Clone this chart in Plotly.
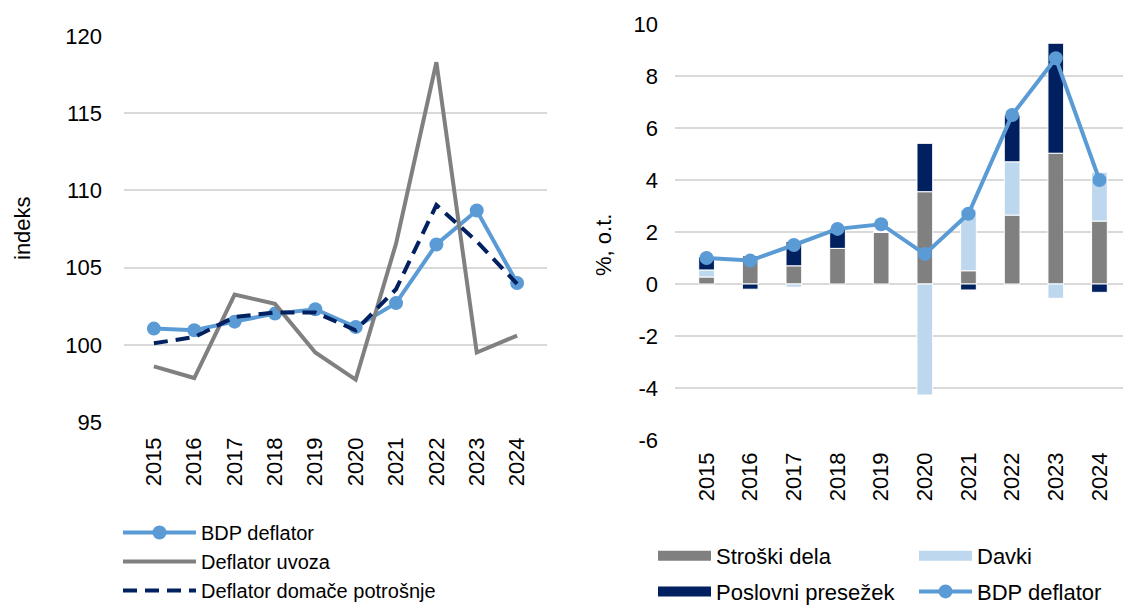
import plotly.graph_objects as go

years = ["2015", "2016", "2017", "2018", "2019", "2020", "2021", "2022", "2023", "2024"]

# Left chart (index)
bdp_index = [101.05, 100.94, 101.5, 102.02, 102.3, 101.15, 102.7, 106.5, 108.7, 104.0]
uvoz_index = [98.6, 97.85, 103.25, 102.65, 99.5, 97.75, 106.55, 118.3, 99.5, 100.6]
domaca_index = [100.1, 100.5, 101.8, 102.1, 102.1, 100.94, 103.6, 109.05, 106.7, 103.95]

# Right chart (%, contributions)
stroski_dela = [0.27, 1.1, 0.7, 1.37, 2.0, 3.55, 0.51, 2.65, 5.03, 2.42]
davki = [0.27, 0.0, -0.12, 0.0, 0.0, -4.27, 2.35, 2.05, -0.55, 1.88]
poslovni = [0.5, -0.2, 0.93, 0.75, 0.0, 1.86, -0.23, 1.8, 4.23, -0.32]
bdp_rast = [1.0, 0.9, 1.5, 2.12, 2.3, 1.15, 2.7, 6.5, 8.68, 4.0]

# Tick labels
left_ticks = [95, 100, 105, 110, 115, 120]
right_ticks = [-6, -4, -2, 0, 2, 4, 6, 8, 10]
right_ticktext = ["-6", "-4", "-2", "0", "2", "4", "6", "8", "10"]

C_LBLUE = "#5B9BD5"
C_GRAY = "#808080"
C_NAVY = "#002060"
C_PALE = "#BDD7EE"
FONT = "Liberation Sans, Arial, sans-serif"
FS = 22

fig = go.Figure()

# ---- Left chart ----
fig.add_trace(go.Scatter(x=years, y=bdp_index, name="BDP deflator", mode="lines+markers",
                         line=dict(color=C_LBLUE, width=4), marker=dict(size=14, color=C_LBLUE),
                         xaxis="x", yaxis="y", legend="legend", legendgroup="a"))
fig.add_trace(go.Scatter(x=years, y=uvoz_index, name="Deflator uvoza", mode="lines",
                         line=dict(color=C_GRAY, width=4),
                         xaxis="x", yaxis="y", legend="legend", legendgroup="b"))
fig.add_trace(go.Scatter(x=years, y=domaca_index, name="Deflator domače potrošnje", mode="lines",
                         line=dict(color=C_NAVY, width=4, dash="14px,8px"),
                         xaxis="x", yaxis="y", legend="legend", legendgroup="c"))

# ---- Right chart ----
bar_line = dict(color="white", width=1)
fig.add_trace(go.Bar(x=years, y=stroski_dela, name="Stroški dela", marker=dict(color=C_GRAY, line=bar_line),
                     xaxis="x2", yaxis="y2", showlegend=False))
fig.add_trace(go.Bar(x=years, y=davki, name="Davki", marker=dict(color=C_PALE, line=bar_line),
                     xaxis="x2", yaxis="y2", showlegend=False))
fig.add_trace(go.Bar(x=years, y=poslovni, name="Poslovni presežek", marker=dict(color=C_NAVY, line=bar_line),
                     xaxis="x2", yaxis="y2", showlegend=False))
fig.add_trace(go.Scatter(x=years, y=bdp_rast, name="BDP deflator", mode="lines+markers",
                         line=dict(color=C_LBLUE, width=4), marker=dict(size=14, color=C_LBLUE),
                         xaxis="x2", yaxis="y2", showlegend=False))

# legend entries for the right chart (wide rectangle swatches)
def swatch(name, color, legend, group):
    fig.add_trace(go.Scatter(x=[None], y=[None], name=name, mode="lines",
                             line=dict(color=color, width=14), xaxis="x2", yaxis="y2",
                             legend=legend, legendgroup=group))

swatch("Stroški dela", C_GRAY, "legend2", "r1")
swatch("Poslovni presežek", C_NAVY, "legend2", "r2")
swatch("Davki", C_PALE, "legend3", "r3")
fig.add_trace(go.Scatter(x=[None], y=[None], name="BDP deflator", mode="lines+markers",
                         line=dict(color=C_LBLUE, width=4), marker=dict(size=14, color=C_LBLUE),
                         xaxis="x2", yaxis="y2", legend="legend3", legendgroup="r4"))

# page has an 8px body margin: figure placed at (8, 8)
OFF = 8
W, H = 1131 - OFF, 606 - OFF
def px(xp):
    return (xp - OFF) / W
def py(yp):
    return 1 - (yp - OFF) / H

grid = dict(showgrid=True, gridcolor="#D9D9D9", gridwidth=1.5)
tickfont = dict(family=FONT, size=FS, color="black")
legfont = dict(family=FONT, size=FS, color="black")

fig.update_layout(
    template="none",
    width=W, height=H,
    margin=dict(l=0, r=0, t=0, b=0, autoexpand=False),
    paper_bgcolor="white", plot_bgcolor="white",
    font=dict(family=FONT, size=FS, color="black"),
    barmode="relative",
    bargap=0.64,
    xaxis=dict(domain=[px(124), px(547)], type="category", tickangle=-90, tickfont=tickfont,
               showgrid=False, zeroline=False, showline=False, ticks="", ticklabelstandoff=10,
               automargin=False, anchor="y"),
    yaxis=dict(domain=[py(422), py(36)], range=[95, 120], tickvals=left_ticks, tickfont=tickfont,
               zeroline=False, showline=False, ticks="", ticklabelstandoff=21, automargin=False,
               anchor="x", **grid),
    xaxis2=dict(domain=[px(675), 1.0], type="category", tickangle=-90, tickfont=tickfont,
                showgrid=False, zeroline=False, showline=False, ticks="", ticklabelstandoff=7,
                automargin=False, anchor="y2"),
    yaxis2=dict(domain=[py(440), py(24)], range=[-6, 10], tickvals=right_ticks,
                ticktext=right_ticktext, tickfont=tickfont,
                zeroline=False, showline=False, ticks="", ticklabelstandoff=16, automargin=False,
                anchor="x2", **grid),
    legend=dict(x=px(118), y=py(513), xanchor="left", yanchor="top", orientation="v",
                font=dict(family=FONT, size=20, color="black"), itemwidth=73, tracegroupgap=0,
                bgcolor="rgba(0,0,0,0)"),
    legend2=dict(x=px(653), y=py(535), xanchor="left", yanchor="top", orientation="v",
                 font=legfont, itemwidth=53, tracegroupgap=4, bgcolor="rgba(0,0,0,0)"),
    legend3=dict(x=px(914), y=py(535), xanchor="left", yanchor="top", orientation="v",
                 font=legfont, itemwidth=53, tracegroupgap=4, bgcolor="rgba(0,0,0,0)"),
    annotations=[
        dict(text="indeks", x=px(22), y=py(228), xref="paper", yref="paper", showarrow=False,
             xanchor="center", yanchor="middle", textangle=-90, font=dict(family=FONT, size=FS)),
        dict(text="%, o.t.", x=px(603), y=py(245), xref="paper", yref="paper", showarrow=False,
             xanchor="center", yanchor="middle", textangle=-90, font=dict(family=FONT, size=FS)),
    ],
)

fig.write_html("out.html")
